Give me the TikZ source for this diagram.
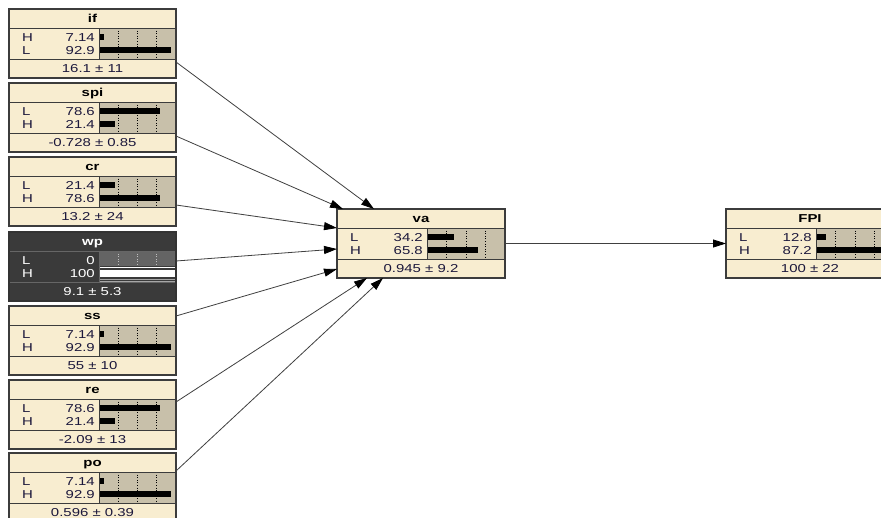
\documentclass[tikz,border=0pt]{standalone}
\usepackage{fontspec}
\setmainfont{Liberation Sans}[FakeStretch=1.3]
\usetikzlibrary{arrows.meta}
\definecolor{cream}{RGB}{248,237,208}
\definecolor{tanbg}{RGB}{200,192,170}
\definecolor{framec}{RGB}{60,60,60}
\definecolor{ink}{RGB}{28,24,60}
\definecolor{darkc}{RGB}{58,58,58}
\definecolor{darkbar}{RGB}{100,100,100}
\tikzset{
  boxfill/.style={fill=#1, draw=none, inner sep=0pt, outer sep=0pt, minimum height=69pt, anchor=north west},
  frameline/.style={draw=framec, line width=1.2pt},
  divline/.style={draw=framec, line width=1pt},
  ticksty/.style={draw=black, dotted, line width=0.6pt},
  barsty/.style={fill=black},
  titletxt/.style={font=\fontsize{11.5}{12}\selectfont\bfseries, text=black, inner sep=0pt, anchor=base},
  valtxt/.style={font=\fontsize{11.5}{12}\selectfont, text=ink, inner sep=0pt},
  link/.style={draw=black!75, line width=0.8pt, -{Triangle[length=13pt,width=8pt,color=black,fill=black]}},
}
\def\bw{167}
\newcommand\bnbox[9]{%
  \node[boxfill=cream, minimum width=\bw pt] (#1) at (#2,#3) {};
  \fill[tanbg] ({#2+90},{#3+19}) rectangle ({#2+\bw},{#3+50});
  \foreach \k in {1,2,3} \draw[ticksty] ({#2+90+\k*(\bw-90)/4},{#3+19}) -- ++(0,31);
  \fill[barsty] ({#2+90},{#3+25}) rectangle ({#2+90+(\bw-90)*#6/100},{#3+31});
  \fill[barsty] ({#2+90},{#3+38}) rectangle ({#2+90+(\bw-90)*#8/100},{#3+44});
  \draw[divline] (#2,{#3+19}) -- ++(\bw,0);
  \draw[divline] (#2,{#3+50}) -- ++(\bw,0);
  \draw[divline] ({#2+90},{#3+19}) -- ++(0,31);
  \node[titletxt] at ({#2+\bw/2},{#3+13.5}) {#4};
  \node[valtxt, anchor=base west] at ({#2+13},{#3+32}) {#5};
  \node[valtxt, anchor=base east] at ({#2+86},{#3+32}) {#6};
  \node[valtxt, anchor=base west] at ({#2+13},{#3+45}) {#7};
  \node[valtxt, anchor=base east] at ({#2+86},{#3+45}) {#8};
  \node[valtxt, anchor=base] at ({#2+\bw/2},{#3+63}) {#9};
  \draw[frameline] (#1.north west) rectangle (#1.south east);
}
\begin{document}
\begin{tikzpicture}[x=1pt,y=-1pt]
\useasboundingbox (0,0) rectangle (881,517);
\fill[white] (0,0) rectangle (881,517);
\clip (0,0) rectangle (881,517);

\def\bw{167}
\bnbox{if}{9}{9}{if}{H}{7.14}{L}{92.9}{16.1 ± 11}
\bnbox{spi}{9}{83}{spi}{L}{78.6}{H}{21.4}{-0.728 ± 0.85}
\bnbox{cr}{9}{157}{cr}{L}{21.4}{H}{78.6}{13.2 ± 24}
\bnbox{ss}{9}{306}{ss}{L}{7.14}{H}{92.9}{55 ± 10}
\bnbox{re}{9}{380}{re}{L}{78.6}{H}{21.4}{-2.09 ± 13}
\bnbox{po}{9}{453}{po}{L}{7.14}{H}{92.9}{0.596 ± 0.39}

% wp: finding node (dark)
\node[boxfill=darkc, minimum width=167pt] (wp) at (9,232) {};
\fill[darkbar] (99,251) rectangle (176,266);
\foreach \k in {1,2,3} \draw[ticksty, draw=black!25] ({99+\k*77/4},251) -- ++(0,15);
\draw[white, line width=1pt] (99,267.5) -- (176,267.5);
\fill[white] (99,270) rectangle (176,277);
\draw[black!35, line width=0.8pt] (99,279) -- (176,279);
\draw[black!35, line width=0.8pt] (99,281) -- (176,281);
\draw[line width=1pt, draw=black!60] (9,251) -- ++(167,0);
\draw[line width=1pt, draw=black!60] (9,282) -- ++(167,0);
\draw[line width=1pt, draw=black!60] (99,251) -- (99,282);
\node[titletxt, text=white] at (92.5,245.5) {wp};
\node[valtxt, text=white, anchor=base west] at (22,264) {L};
\node[valtxt, text=white, anchor=base east] at (95,264) {0};
\node[valtxt, text=white, anchor=base west] at (22,277) {H};
\node[valtxt, text=white, anchor=base east] at (95,277) {100};
\node[valtxt, text=white, anchor=base] at (92.5,295) {9.1 ± 5.3};
\draw[draw=black!80, line width=1.2pt] (wp.north west) rectangle (wp.south east);

\def\bw{168}
\bnbox{va}{337}{209}{va}{L}{34.2}{H}{65.8}{0.945 ± 9.2}
\bnbox{FPI}{726}{209}{FPI}{L}{12.8}{H}{87.2}{100 ± 22}

% connectors
\draw[link] ([yshift=-53pt]if.north east) -- ([xshift=37pt]va.north west);
\draw[link] ([yshift=-53pt]spi.north east) -- ([xshift=6pt]va.north west);
\draw[link] ([yshift=-48pt]cr.north east) -- ([yshift=-19pt]va.north west);
\draw[link] ([yshift=-29pt]wp.north east) -- ([yshift=-40pt]va.north west);
\draw[link] ([yshift=-10pt]ss.north east) -- ([yshift=-60pt]va.north west);
\draw[link] ([yshift=-22pt]re.north east) -- ([xshift=30pt]va.south west);
\draw[link] ([yshift=-18pt]po.north east) -- ([xshift=46pt]va.south west);
\draw[link] (va.east) -- (FPI.west);
\end{tikzpicture}
\end{document}
